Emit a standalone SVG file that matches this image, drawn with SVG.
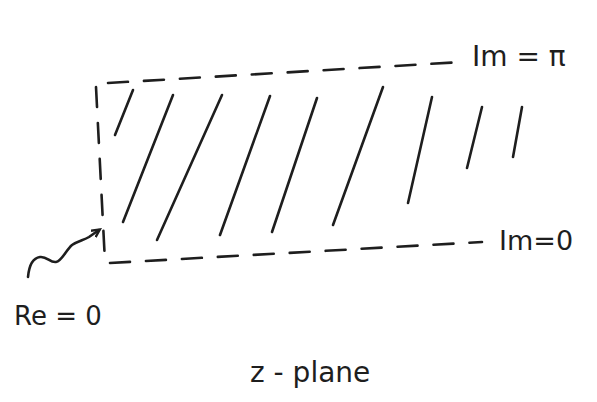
<svg xmlns="http://www.w3.org/2000/svg" width="597" height="402" viewBox="0 0 597 402">
<style>
.ln{fill:none;stroke:#1e1e1e;stroke-width:2.6;stroke-linecap:round;stroke-linejoin:round}
.dash{stroke-dasharray:20 16}
.t{font-family:"DejaVu Sans","Liberation Sans",sans-serif;fill:#1e1e1e}
</style>
<defs>
<marker id="ah" markerWidth="10" markerHeight="10" refX="7" refY="5" orient="auto" markerUnits="userSpaceOnUse">
<path d="M0,1 L8,5 L0,9" fill="none" stroke="#1e1e1e" stroke-width="2.4"/>
</marker>
</defs>
<rect width="597" height="402" fill="#ffffff"/>
<g id="region">
<path class="ln dash" d="M108,83 L462,62"/>
<path class="ln dash" d="M96,87 L105,262"/>
<path class="ln dash" d="M110,263 L482,242"/>
</g>
<g id="hatching">
<path class="ln" d="M133,90 L115,135"/>
<path class="ln" d="M173,95 L123,222"/>
<path class="ln" d="M222,95 L157,240"/>
<path class="ln" d="M270,96 L220,235"/>
<path class="ln" d="M317,98 L272,232"/>
<path class="ln" d="M383,87 L333,225"/>
<path class="ln" d="M432,97 L408,203"/>
<path class="ln" d="M482,107 L467,168"/>
<path class="ln" d="M522,107 L513,157"/>
</g>
<g id="connectors">
<path class="ln" marker-end="url(#ah)" d="M28,277 C29,266 33,258 40,257 C47,256 50,263 56,262 C62,261 66,250 72,245 C78,241 84,240 89,237 L99,230"/>
</g>
<g id="label-im-pi"><text class="t" x="472" y="66" font-size="28">Im = π</text></g>
<g id="label-im-0"><text class="t" x="499" y="250" font-size="27">Im=0</text></g>
<g id="label-re-0"><text class="t" x="14" y="325" font-size="26">Re = 0</text></g>
<g id="label-zplane"><text class="t" x="250" y="382" font-size="28">z - plane</text></g>
</svg>
